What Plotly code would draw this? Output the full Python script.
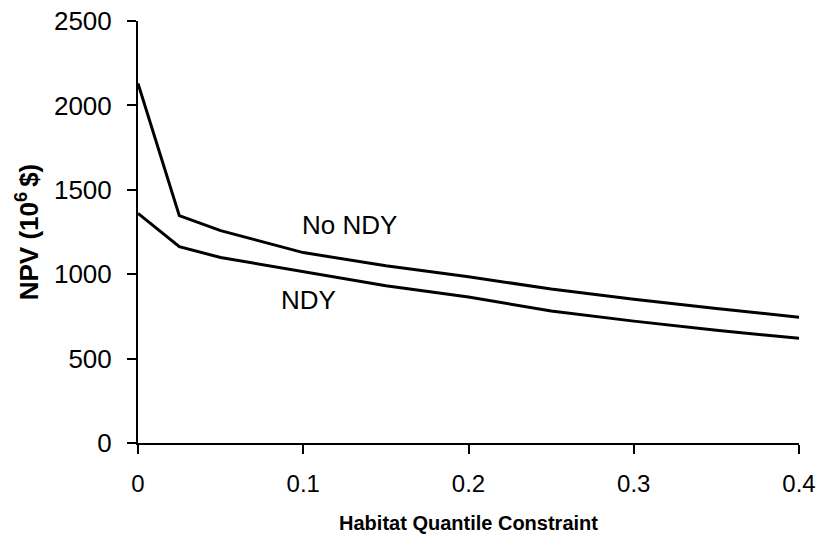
import plotly.graph_objects as go

# valores
quantile = [0, 0.025, 0.05, 0.1, 0.15, 0.2, 0.25, 0.3, 0.35, 0.4]
npv_no_ndy = [2130, 1347, 1258, 1128, 1050, 985, 912, 851, 797, 745]
npv_ndy = [1360, 1163, 1099, 1015, 932, 865, 782, 722, 668, 620]
x_ticks = [0, 0.1, 0.2, 0.3, 0.4]
y_ticks = [0, 500, 1000, 1500, 2000, 2500]

fuente = "Liberation Sans, Arial, sans-serif"

fig = go.Figure()
fig.add_trace(go.Scatter(
    x=quantile, y=npv_no_ndy, mode="lines", name="No NDY",
    line=dict(color="black", width=3),
))
fig.add_trace(go.Scatter(
    x=quantile, y=npv_ndy, mode="lines", name="NDY",
    line=dict(color="black", width=3),
))

fig.add_annotation(x=0.128, y=1291, text="No NDY", showarrow=False,
                   font=dict(size=26, color="black"))
fig.add_annotation(x=0.103, y=847, text="NDY", showarrow=False,
                   font=dict(size=26, color="black"))

# la pagina tiene 8px de margen en el body
fig.update_layout(
    width=817, height=537,
    template="none",
    font_family=fuente,
    showlegend=False,
    margin=dict(l=130, r=26, t=13, b=102),
    paper_bgcolor="white",
    plot_bgcolor="white",
)
fig.update_xaxes(
    range=[0, 0.4], tickvals=x_ticks, ticktext=[f"{v:g}" for v in x_ticks],
    showgrid=False, zeroline=False, automargin=False, ticklabeloverflow="allow",
    showline=True, linecolor="black", linewidth=2,
    ticks="outside", ticklen=9, tickwidth=2, tickcolor="black",
    tickfont=dict(size=24, color="black"), ticklabelstandoff=9,
    title=dict(text="<b>Habitat Quantile Constraint</b>", font=dict(size=20, color="black"), standoff=20),
)
fig.update_yaxes(
    range=[0, 2500], tickvals=y_ticks,
    showgrid=False, zeroline=False, automargin=False, ticklabeloverflow="allow",
    showline=True, linecolor="black", linewidth=2,
    ticks="outside", ticklen=9, tickwidth=2, tickcolor="black",
    tickfont=dict(size=26, color="black"), ticklabelstandoff=10,
    title=dict(text="<b>NPV (10<sup>6 </sup>$)</b>", font=dict(size=26, color="black"), standoff=8),
)

fig.write_html("out.html")
